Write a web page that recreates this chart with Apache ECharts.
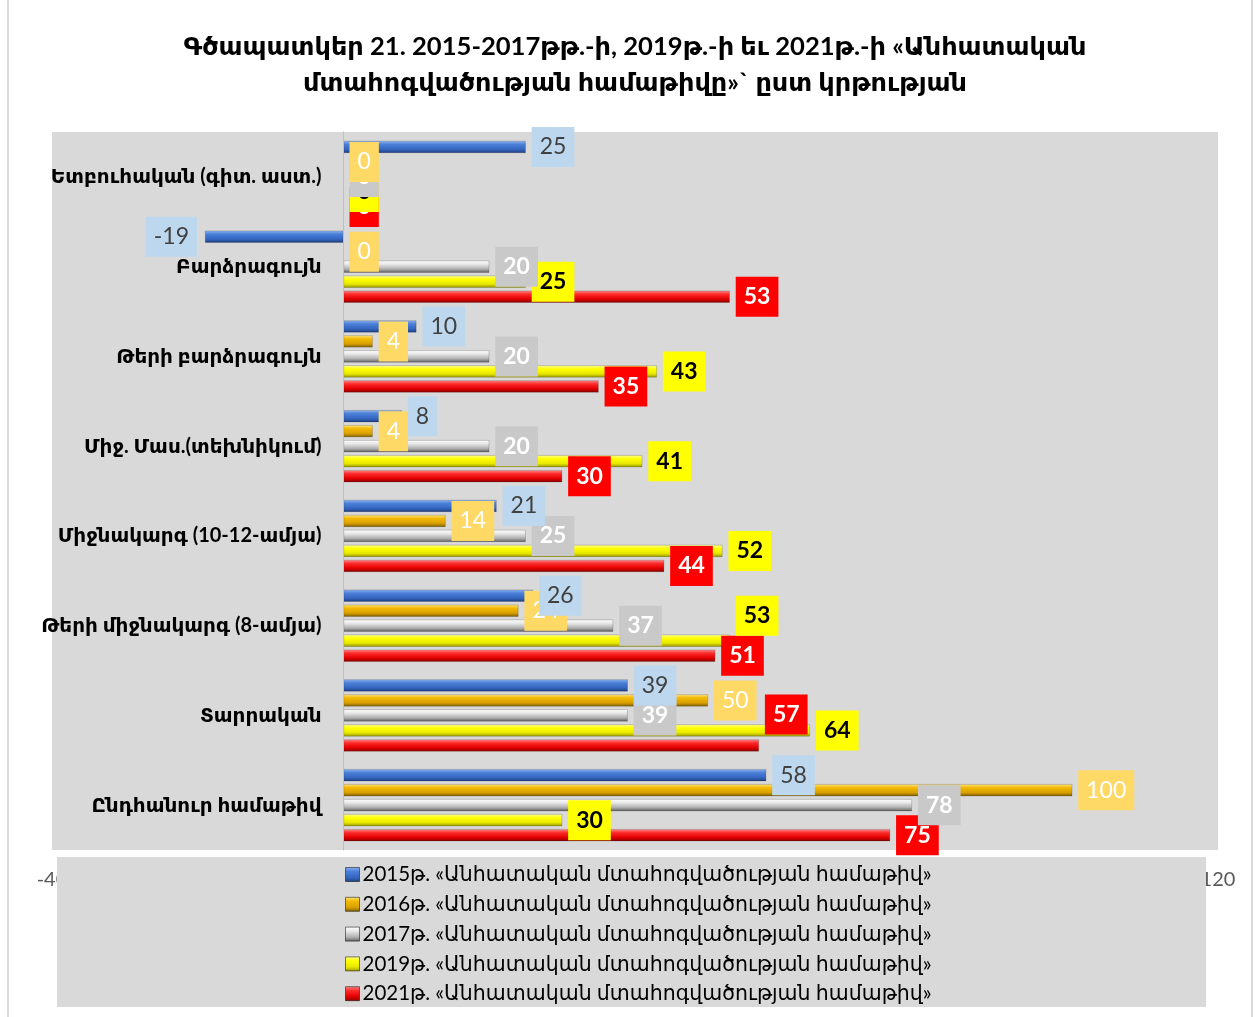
<!DOCTYPE html>
<html>
<head>
<meta charset="utf-8">
<script src="https://cdn.jsdelivr.net/npm/echarts@6/dist/echarts.min.js"></script>
<style>html,body{margin:0;padding:0;background:#fff;}#c{width:1258px;height:1017px;}</style>
</head>
<body>
<div id="c"></div>
<script>
const categories = [
  'Ետբուհական (գիտ. աստ.)',
  'Բարձրագույն',
  'Թերի բարձրագույն',
  'Միջ. Մաս.(տեխնիկում)',
  'Միջնակարգ (10-12-ամյա)',
  'Թերի միջնակարգ (8-ամյա)',
  'Տարրական',
  'Ընդհանուր համաթիվ'
];
const seriesNames = [
  '2015թ. «Անհատական մտահոգվածության համաթիվ»',
  '2016թ. «Անհատական մտահոգվածության համաթիվ»',
  '2017թ. «Անհատական մտահոգվածության համաթիվ»',
  '2019թ. «Անհատական մտահոգվածության համաթիվ»',
  '2021թ. «Անհատական մտահոգվածության համաթիվ»'
];
const v2015 = [25, -19, 10, 8, 21, 26, 39, 58];
const v2016 = [0, 0, 4, 4, 14, 24, 50, 100];
const v2017 = [0, 20, 20, 20, 25, 37, 39, 78];
const v2019 = [0, 25, 43, 41, 52, 53, 64, 30];
const v2021 = [0, 53, 35, 30, 44, 51, 57, 75];
const xTicks = {min: -40, max: 120, interval: 20};

const FONT = "Lato, 'Noto Sans', 'DejaVu Sans', sans-serif";
function grad(c0, c1, c2, c3) {
  return {type: 'linear', x: 0, y: 0, x2: 0, y2: 1, colorStops: [
    {offset: 0, color: c0}, {offset: 0.3, color: c1}, {offset: 0.7, color: c2}, {offset: 1, color: c3}
  ]};
}
const styles = [
  {fill: grad('#8fb4f0', '#4a7fd8', '#3566c0', '#1f3f80'), bg: '#bdd7ee', fg: '#404040', bold: 'normal'},
  {fill: grad('#ffe680', '#f2b800', '#d9a000', '#7f6000'), bg: '#ffd966', fg: '#ffffff', bold: 'normal'},
  {fill: grad('#ffffff', '#e8e8e8', '#b0b0b0', '#606060'), bg: '#c9c9c9', fg: '#ffffff', bold: 'bold'},
  {fill: grad('#ffff99', '#ffff00', '#e8e800', '#999900'), bg: '#ffff00', fg: '#000000', bold: 'bold'},
  {fill: grad('#ff8c8c', '#ff2a2a', '#e00000', '#8c0000'), bg: '#ff0000', fg: '#ffffff', bold: 'bold'}
];
const allValues = [v2015, v2016, v2017, v2019, v2021];

// per-point label adjustments (manual label placements in the original)
const labelAdjust = {
  '0-1': {position: 'left', distance: 8},
  '3-5': {offset: [0, -25]},
  '4-6': {offset: [0, -31]}
};

// visible bars (no labels) on yAxis 0
const barSeries = allValues.map((vals, si) => ({
  name: seriesNames[si],
  type: 'bar',
  yAxisIndex: 0,
  z: 2,
  barWidth: 12,
  barGap: '25%',
  itemStyle: {color: styles[si].fill, borderColor: 'rgba(0,0,0,0.35)', borderWidth: 0.5},
  label: {show: false},
  data: vals
}));
// the same values again on an overlaid hidden axis, carrying only the data labels,
// so that all labels sit above all bars and earlier years' labels are on top
const labelSeries = allValues.map((vals, si) => ({
  name: seriesNames[si],
  type: 'bar',
  yAxisIndex: 1,
  z: 20 - si,
  silent: true,
  barWidth: 12,
  barGap: '25%',
  itemStyle: {color: 'rgba(0,0,0,0)', borderWidth: 0},
  label: {
    show: true,
    position: 'right',
    distance: 6,
    fontFamily: FONT,
    fontSize: 23,
    fontWeight: styles[si].bold,
    color: styles[si].fg,
    backgroundColor: styles[si].bg,
    padding: [9, 8, 8, 8]
  },
  data: vals.map((v, ci) => {
    const adj = labelAdjust[si + '-' + ci];
    return adj ? {value: v, label: adj} : v;
  })
}));

const chart = echarts.init(document.getElementById('c'), null, {renderer: 'canvas'});
chart.setOption({
  backgroundColor: '#ffffff',
  animation: false,
  title: {
    text: 'Գծապատկեր 21. 2015-2017թթ.-ի, 2019թ.-ի եւ 2021թ.-ի «Անհատական\nմտահոգվածության համաթիվը»` ըստ կրթության',
    left: 630, top: 24, textAlign: 'center',
    textStyle: {fontFamily: FONT, fontSize: 25.6, fontWeight: 'bold', color: '#000', lineHeight: 36}
  },
  grid: {left: 52, right: 40, top: 132, bottom: 167, outerBoundsMode: 'none', containLabel: false, show: true, backgroundColor: '#d9d9d9', borderWidth: 0},
  xAxis: {
    type: 'value', min: xTicks.min, max: xTicks.max, interval: xTicks.interval,
    axisLine: {show: false}, axisTick: {show: false}, splitLine: {show: false},
    axisLabel: {fontFamily: FONT, fontSize: 20, color: '#595959', margin: 20}
  },
  yAxis: [
    {
      type: 'category', data: categories, inverse: true, z: 5,
      position: 'left', offset: -291.5,
      axisLine: {show: true, onZero: false, lineStyle: {color: '#bfbfbf', width: 1}},
      axisTick: {show: false},
      axisLabel: {fontFamily: FONT, fontSize: 20, fontWeight: 'bold', color: '#000', margin: 22}
    },
    {
      type: 'category', data: categories, inverse: true, show: false, position: 'right'
    }
  ],
  legend: {
    orient: 'vertical', left: 340, top: 859, z: 30,
    itemWidth: 14, itemHeight: 14, itemGap: 8.8,
    icon: 'rect',
    textStyle: {fontFamily: FONT, fontSize: 20.5, lineHeight: 20, color: '#000', padding: [0, 0, 0, -2]},
    data: seriesNames.map((n, i) => ({name: n, itemStyle: {color: styles[i].fill, borderColor: 'rgba(0,0,0,0.5)', borderWidth: 1}}))
  },
  graphic: [
    {type: 'rect', z: 25, shape: {x: 57, y: 857, width: 1149, height: 150}, style: {fill: '#d9d9d9'}},
    {type: 'rect', z: 25, shape: {x: 8, y: -5, width: 1244, height: 1030}, style: {fill: 'none', stroke: '#d9d9d9', lineWidth: 2}}
  ],
  series: barSeries.concat(labelSeries)
});
</script>
</body>
</html>
